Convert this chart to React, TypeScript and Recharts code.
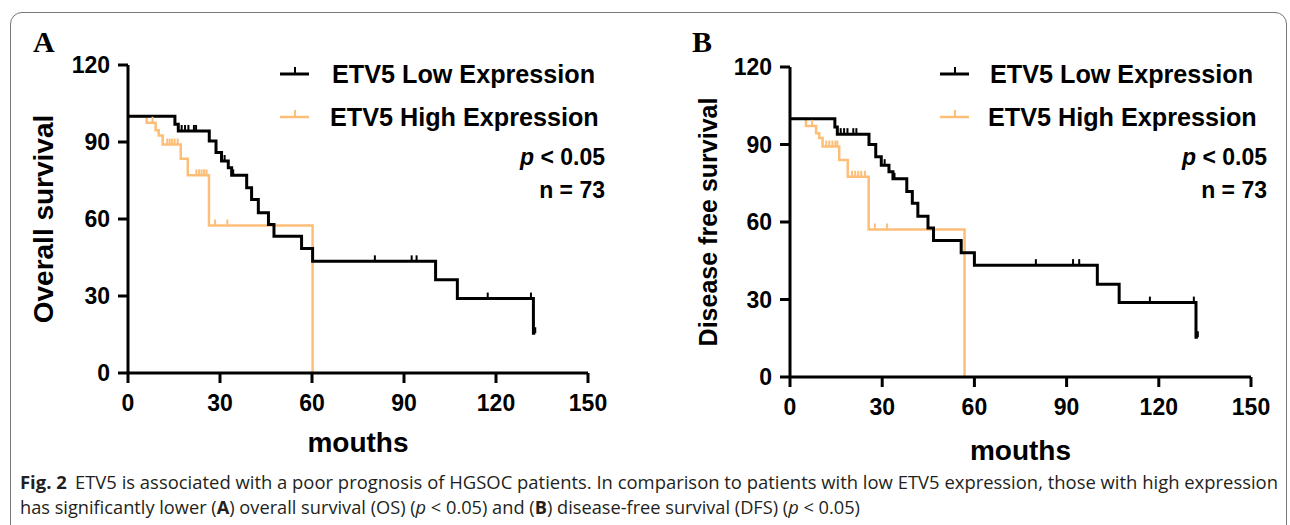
import React from "react";
import { ComposedChart, Line, Scatter, XAxis, YAxis, Legend } from "recharts";

// Kaplan-Meier steps: month of each drop and survival (%) after it
// A: overall survival
const lowOsMonths = [0, 15.3, 16.4, 26.5, 28.7, 30.5, 32.7, 33.8, 38.7, 40.3, 42.5, 45.8, 47.6, 56.6, 60.2, 100.3, 107.4, 132.2, 132.8];
const lowOsSurv = [100, 96.9, 94.3, 90.4, 85.9, 82.6, 80.0, 77.0, 72.2, 67.6, 62.4, 57.9, 53.3, 48.5, 43.5, 36.3, 29.0, 15.5, 15.5];
const lowOsCensored = [17.5, 18.6, 19.7, 21.5, 22.2, 31.5, 34.3, 80.5, 92.5, 94.1, 117.3, 131.4, 132.8];

const highOsMonths = [0, 6.1, 9.0, 10.0, 11.3, 17.2, 19.5, 26.4, 60.2];
const highOsSurv = [100, 97.5, 94.6, 92.5, 89.0, 83.5, 77.0, 57.5, 0];
const highOsCensored = [8.0, 12.8, 13.6, 14.4, 15.2, 16.2, 22.3, 23.2, 24.0, 24.8, 25.6, 28.4, 32.4];

// B: disease free survival
const lowDfsMonths = [0, 14.6, 15.4, 25.7, 27.9, 29.7, 32.2, 33.5, 38.0, 39.8, 41.6, 44.9, 46.7, 55.7, 60.0, 100.0, 107.1, 132.1, 132.7];
const lowDfsSurv = [100, 96.8, 94.0, 90.0, 85.3, 82.0, 79.5, 76.7, 71.8, 67.3, 62.2, 57.7, 52.8, 48.1, 43.3, 35.9, 28.8, 15.4, 15.4];
const lowDfsCensored = [16.5, 17.6, 18.7, 20.6, 21.6, 30.8, 34.0, 80.0, 92.1, 94.1, 117.1, 131.4, 132.7];

const highDfsMonths = [0, 5.2, 8.5, 9.5, 10.6, 16.0, 18.8, 25.6, 56.8];
const highDfsSurv = [100, 97.2, 94.4, 92.5, 89.2, 84.0, 77.5, 57.1, 0];
const highDfsCensored = [7.2, 11.8, 12.8, 13.8, 14.8, 15.4, 20.2, 21.2, 22.2, 23.2, 24.4, 27.6, 31.6];

const monthTicks = [0, 30, 60, 90, 120, 150];
const survivalTicks = [0, 30, 60, 90, 120];

const BLACK = "#000000";
const ORANGE = "#FDBE78";
const FONT = "'Liberation Sans', Arial, Helvetica, sans-serif";
const CAPTION_FONT = "'Open Sans', 'Noto Sans', sans-serif";

const toSteps = (months: number[], surv: number[]) => months.map((m, i) => ({ m, s: surv[i] }));

// survival value of the step function at month t
const survivalAt = (months: number[], surv: number[], t: number) => {
  let v = surv[0];
  months.forEach((m, i) => {
    if (m <= t) v = surv[i];
  });
  return v;
};

const toCensors = (times: number[], months: number[], surv: number[]) =>
  times.map((m) => ({ m, s: survivalAt(months, surv, m) }));

const censorMark = (color: string) => (props: any) => (
  <line x1={props.cx} x2={props.cx} y1={props.cy} y2={props.cy - 6} stroke={color} strokeWidth={2} />
);

const Glyph = ({ color, width }: { color: string; width: number }) => (
  <svg width={30} height={12} style={{ display: "block" }}>
    <line x1={0} x2={29} y1={9} y2={9} stroke={color} strokeWidth={width} />
    <line x1={15} x2={15} y1={9} y2={2} stroke={color} strokeWidth={2} />
  </svg>
);

const legendContent = (textLeft: number, rightPad: number) => () => {
  const row = (center: number): React.CSSProperties => ({
    position: "absolute",
    top: center - 15,
    height: 30,
    lineHeight: "30px",
    whiteSpace: "nowrap",
  });
  return (
    <div style={{ position: "relative", width: 330, height: 160, fontFamily: FONT, fontWeight: 700, color: "#000" }}>
      <div style={{ ...row(24), left: 0, top: 15 }}>
        <Glyph color={BLACK} width={3} />
      </div>
      <div style={{ ...row(24), left: textLeft, fontSize: 25.2 }}>ETV5 Low Expression</div>
      <div style={{ ...row(67), left: 0, top: 58 }}>
        <Glyph color={ORANGE} width={2.5} />
      </div>
      <div style={{ ...row(67), left: textLeft - 2, fontSize: 25.2 }}>ETV5 High Expression</div>
      <div style={{ ...row(107), right: rightPad, fontSize: 23 }}>
        <i>p</i> &lt; 0.05
      </div>
      <div style={{ ...row(140), right: rightPad, fontSize: 23 }}>n = 73</div>
    </div>
  );
};

interface PanelProps {
  left: number;
  margin: { top: number; right: number; bottom: number; left: number };
  yTitle: string;
  yTitleSize: number;
  yTitleX: number;
  xTitleDrop: number;
  legendX: number;
  legendLeft: number;
  legendRight: number;
  low: { m: number; s: number }[];
  high: { m: number; s: number }[];
  lowCensors: { m: number; s: number }[];
  highCensors: { m: number; s: number }[];
}

const axisStroke = { stroke: BLACK, strokeWidth: 3 };
const tickStyle = { fill: BLACK, fontSize: 23, fontWeight: 700, fontFamily: FONT };

function KMPanel(p: PanelProps) {
  return (
    <div style={{ position: "absolute", left: p.left, top: 0 }}>
      <ComposedChart width={640} height={470} margin={p.margin}>
        <XAxis
          type="number"
          dataKey="m"
          domain={[0, 150]}
          ticks={monthTicks}
          height={40}
          tick={tickStyle}
          tickSize={10}
          tickMargin={12}
          axisLine={axisStroke}
          tickLine={axisStroke}
          label={(props: any) => {
            const vb = props.viewBox;
            return (
              <text
                x={vb.x + vb.width / 2}
                y={vb.y + p.xTitleDrop}
                textAnchor="middle"
                fill={BLACK}
                fontSize={28}
                fontWeight={700}
                fontFamily={FONT}
              >
                mouths
              </text>
            );
          }}
        />
        <YAxis
          type="number"
          dataKey="s"
          domain={[0, 120]}
          ticks={survivalTicks}
          width={60}
          tick={tickStyle}
          tickSize={10}
          tickMargin={8}
          axisLine={axisStroke}
          tickLine={axisStroke}
          label={(props: any) => {
            const vb = props.viewBox;
            const cy = vb.y + vb.height / 2;
            return (
              <text
                x={p.yTitleX}
                y={cy}
                transform={`rotate(-90 ${p.yTitleX} ${cy})`}
                textAnchor="middle"
                dominantBaseline="central"
                fill={BLACK}
                fontSize={p.yTitleSize}
                fontWeight={700}
                fontFamily={FONT}
              >
                {p.yTitle}
              </text>
            );
          }}
        />
        <Legend
          layout="vertical"
          align="center"
          verticalAlign="middle"
          content={legendContent(p.legendLeft, p.legendRight)}
          wrapperStyle={{ left: p.legendX, top: 50, width: 330, height: 160 }}
        />
        <Line
          data={p.high}
          dataKey="s"
          type="stepAfter"
          stroke={ORANGE}
          strokeWidth={2.5}
          dot={false}
          legendType="none"
          isAnimationActive={false}
        />
        <Scatter data={p.highCensors} dataKey="s" shape={censorMark(ORANGE)} legendType="none" isAnimationActive={false} />
        <Line
          data={p.low}
          dataKey="s"
          type="stepAfter"
          stroke={BLACK}
          strokeWidth={3}
          dot={false}
          legendType="none"
          isAnimationActive={false}
        />
        <Scatter data={p.lowCensors} dataKey="s" shape={censorMark(BLACK)} legendType="none" isAnimationActive={false} />
      </ComposedChart>
    </div>
  );
}

const letterStyle: React.CSSProperties = {
  position: "absolute",
  top: 24,
  fontFamily: "'Liberation Serif', 'Times New Roman', serif",
  fontWeight: 700,
  fontSize: 30,
  lineHeight: "36px",
};

export default function App() {
  return (
    <div
      style={{
        position: "absolute",
        left: 0,
        top: 0,
        width: 1290,
        height: 525,
        overflow: "hidden",
        background: "#fff",
      }}
    >
      <div
        style={{
          position: "absolute",
          left: 10,
          top: 12,
          width: 1275,
          height: 560,
          border: "1.5px solid #777",
          borderRadius: 12,
        }}
      />
      <KMPanel
        left={0}
        margin={{ top: 65, right: 52, bottom: 57, left: 68 }}
        yTitle="Overall survival"
        yTitleSize={28}
        yTitleX={43}
        xTitleDrop={79}
        legendX={280}
        legendLeft={52}
        legendRight={5}
        low={toSteps(lowOsMonths, lowOsSurv)}
        high={toSteps(highOsMonths, highOsSurv)}
        lowCensors={toCensors(lowOsCensored, lowOsMonths, lowOsSurv)}
        highCensors={toCensors(highOsCensored, highOsMonths, highOsSurv)}
      />
      <KMPanel
        left={650}
        margin={{ top: 67, right: 39, bottom: 53, left: 80 }}
        yTitle="Disease free survival"
        yTitleSize={25}
        yTitleX={58}
        xTitleDrop={83}
        legendX={290}
        legendLeft={50}
        legendRight={3}
        low={toSteps(lowDfsMonths, lowDfsSurv)}
        high={toSteps(highDfsMonths, highDfsSurv)}
        lowCensors={toCensors(lowDfsCensored, lowDfsMonths, lowDfsSurv)}
        highCensors={toCensors(highDfsCensored, highDfsMonths, highDfsSurv)}
      />
      <div style={{ ...letterStyle, left: 33 }}>A</div>
      <div style={{ ...letterStyle, left: 692 }}>B</div>
      <svg width={1290} height={60} style={{ position: "absolute", left: 0, top: 465 }}>
        <text
          x={20}
          y={24}
          textLength={1258}
          lengthAdjust="spacingAndGlyphs"
          fontFamily={CAPTION_FONT}
          fontSize={18}
          fill="#231f20"
        >
          <tspan fontWeight={700}>Fig. 2</tspan>
          <tspan dx={8}>ETV5 is associated with a poor prognosis of HGSOC patients. In comparison to patients with low ETV5 expression, those with high expression</tspan>
        </text>
        <text
          x={20}
          y={49}
          textLength={840}
          lengthAdjust="spacingAndGlyphs"
          fontFamily={CAPTION_FONT}
          fontSize={18}
          fill="#231f20"
        >
          <tspan>has significantly lower (</tspan>
          <tspan fontWeight={700}>A</tspan>
          <tspan>) overall survival (OS) (</tspan>
          <tspan fontStyle="italic">p</tspan>
          <tspan>{" < 0.05) and ("}</tspan>
          <tspan fontWeight={700}>B</tspan>
          <tspan>{") disease-free survival (DFS) ("}</tspan>
          <tspan fontStyle="italic">p</tspan>
          <tspan>{" < 0.05)"}</tspan>
        </text>
      </svg>
    </div>
  );
}
